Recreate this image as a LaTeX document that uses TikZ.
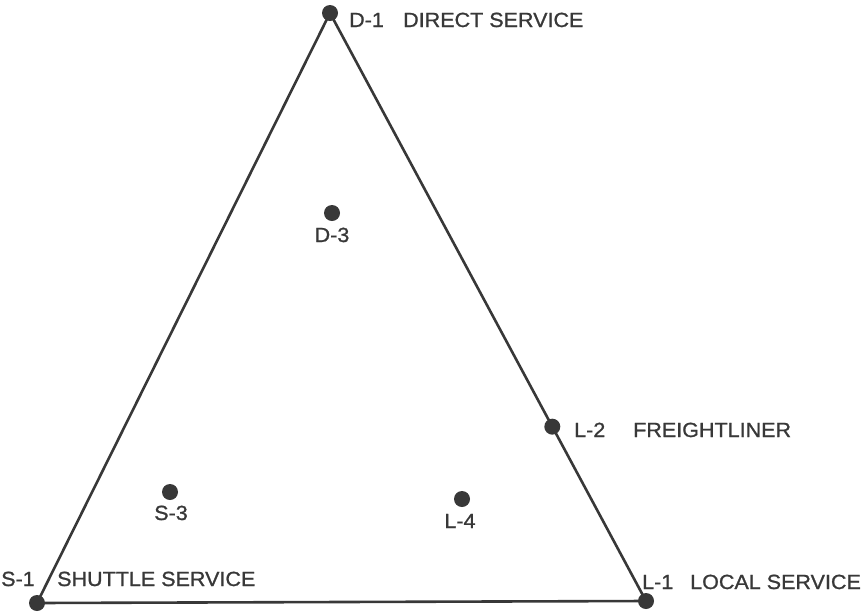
\documentclass[tikz,border=0pt]{standalone}
\usepackage{fontspec}
\setmainfont{Liberation Sans}
\newfontfamily\lblfont[FakeStretch=1.05,FakeBold=1]{Liberation Sans}
\definecolor{ink}{HTML}{383838}
\begin{document}
\begin{tikzpicture}[x=1pt,y=-1pt,
  vertex/.style={circle,fill=ink,inner sep=0pt,minimum size=16pt},
  lbl/.style={inner sep=0pt,text=ink,font=\lblfont\fontsize{20.5}{22}\selectfont},
  edge/.style={draw=ink,line width=2.6pt}]
\useasboundingbox (0,0) rectangle (862,611);
% corners of the triangle
\node[vertex] (D1) at (330,13) {};
\node[vertex] (S1) at (37,603) {};
\node[vertex] (L1) at (646,601) {};
\draw[edge] (S1.center) -- (D1.center) -- (L1.center) -- cycle;
% point on the right side
\path (D1.center) -- (L1.center) coordinate[pos=0.7035] (L2pos);
\node[vertex] (L2) at (L2pos) {};
% interior points
\node[vertex] (D3) at (332,213) {};
\node[vertex] (S3) at (170,492) {};
\node[vertex] (L4) at (462,499) {};
% labels
\node[lbl,anchor=base west] (tD1) at (349,27) {D-1};
\node[lbl,anchor=base west] (tD1b) at (403,27) {DIRECT SERVICE};
\node[lbl,anchor=base west] (tL2) at (574,437) {L-2};
\node[lbl,anchor=base west] (tL2b) at (633,437) {FREIGHTLINER};
\node[lbl,anchor=base west] (tS1) at (1,586) {S-1};
\node[lbl,anchor=base west] (tS1b) at (57,586) {SHUTTLE SERVICE};
\node[lbl,anchor=base west] (tL1) at (642,589) {L-1};
\node[lbl,anchor=base west] (tL1b) at (690,589) {LOCAL SERVICE};
\node[lbl,anchor=base] (tD3) at (332,242) {D-3};
\node[lbl,anchor=base] (tS3) at (171,520) {S-3};
\node[lbl,anchor=base] (tL4) at (460,528) {L-4};
\end{tikzpicture}
\end{document}
